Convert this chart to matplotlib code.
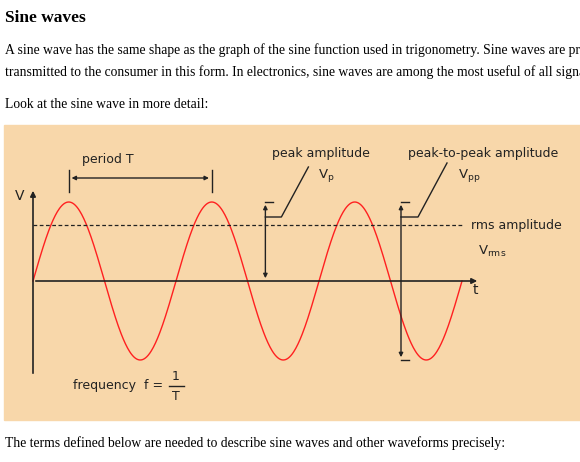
import numpy as np
import matplotlib
matplotlib.use("Agg")
import matplotlib.pyplot as plt
from matplotlib.patches import Rectangle

# diagram parameters (pixel space of page)
origin = (33, 281)
amplitude = 79
period = 143
n_periods = 3.0
rms_factor = 0.707
title = "Sine waves"
para_lines = ["A sine wave has the same shape as the graph of the sine function used in trigonometry. Sine waves are pro",
              "transmitted to the consumer in this form. In electronics, sine waves are among the most useful of all signals"]
intro = "Look at the sine wave in more detail:"
footer = "The terms defined below are needed to describe sine waves and other waveforms precisely:"

fig = plt.figure(figsize=(5.8, 4.62), dpi=100)
ax = fig.add_axes([0, 0, 1, 1])
ax.set_xlim(0, 580); ax.set_ylim(462, 0); ax.axis("off")

serif = "Liberation Serif"
hand = "DejaVu Sans"
ax.text(5, 18, title, fontsize=12.5, fontweight="bold", family=serif, va="center")
for i, l in enumerate(para_lines):
    ax.text(5, 50 + 22 * i, l, fontsize=9.8, family=serif, va="center", clip_on=True)
ax.text(5, 104, intro, fontsize=9.8, family=serif, va="center")
ax.text(5, 443, footer, fontsize=9.8, family=serif, va="center")

ax.add_patch(Rectangle((4, 125), 576, 295, color="#F8D7AA", zorder=0))

ox, oy = origin
k = "#222222"
# axes
ax.annotate("", xy=(ox, 188), xytext=(ox, 376), arrowprops=dict(arrowstyle="-|>", color=k, lw=1.2, mutation_scale=8))
ax.annotate("", xy=(480, oy), xytext=(ox, oy), arrowprops=dict(arrowstyle="-|>", color=k, lw=1.2, mutation_scale=8))
ax.text(20, 196, "V", fontsize=10, family=hand, va="center", ha="center", color=k)
ax.text(475, 290, "t", fontsize=10, family=hand, va="center", ha="center", color=k)

# sine
x = np.linspace(0, n_periods * period, 600)
ax.plot(ox + x, oy - amplitude * np.sin(2 * np.pi * x / period), color="#FF2020", lw=1.0)
# rms
yr = oy - amplitude * rms_factor
ax.plot([ox, 463], [yr, yr], color=k, lw=0.9, ls=(0, (3, 2)))
ax.text(471, yr, "rms amplitude", fontsize=9, family=hand, va="center", color=k)
ax.text(478, 251, r"V$_{\rm rms}$", fontsize=9.5, family=hand, va="center", color=k)

# period
p1 = ox + period / 4; p2 = p1 + period
ax.plot([p1, p1], [170, 192], color=k, lw=1)
ax.plot([p2, p2], [170, 192], color=k, lw=1)
ax.annotate("", xy=(p2, 178), xytext=(p1, 178), arrowprops=dict(arrowstyle="<|-|>", color=k, lw=1, mutation_scale=6))
ax.text(82, 160, "period T", fontsize=9, family=hand, va="center", color=k)

# peak amplitude
xp = ox + period * 1.625
ax.plot([xp, xp + 8], [oy - amplitude] * 2, color=k, lw=1)
ax.annotate("", xy=(xp, oy - amplitude), xytext=(xp, oy), arrowprops=dict(arrowstyle="<|-|>", color=k, lw=1, mutation_scale=6))
ax.plot([xp, xp + 16, xp + 43], [217, 217, 167], color=k, lw=1)
ax.text(272, 154, "peak amplitude", fontsize=9, family=hand, va="center", color=k)
ax.text(318, 176, r"V$_{\rm p}$", fontsize=9.5, family=hand, va="center", color=k)

# peak-to-peak
xq = 401
for yy in (oy - amplitude, oy + amplitude):
    ax.plot([xq, xq + 8], [yy, yy], color=k, lw=1)
ax.annotate("", xy=(xq, oy - amplitude), xytext=(xq, oy + amplitude), arrowprops=dict(arrowstyle="<|-|>", color=k, lw=1, mutation_scale=6))
ax.plot([xq, xq + 17, xq + 46], [217, 217, 163], color=k, lw=1)
ax.text(408, 154, "peak-to-peak amplitude", fontsize=9, family=hand, va="center", color=k)
ax.text(458, 176, r"V$_{\rm pp}$", fontsize=9.5, family=hand, va="center", color=k)

# frequency
ax.text(73, 386, "frequency  f =", fontsize=9, family=hand, va="center", color=k)
ax.text(176, 376, "1", fontsize=9, family=hand, va="center", ha="center", color=k)
ax.plot([169, 184], [386, 386], color=k, lw=1)
ax.text(176, 396, "T", fontsize=9, family=hand, va="center", ha="center", color=k)

fig.savefig("out.png", dpi=100)
